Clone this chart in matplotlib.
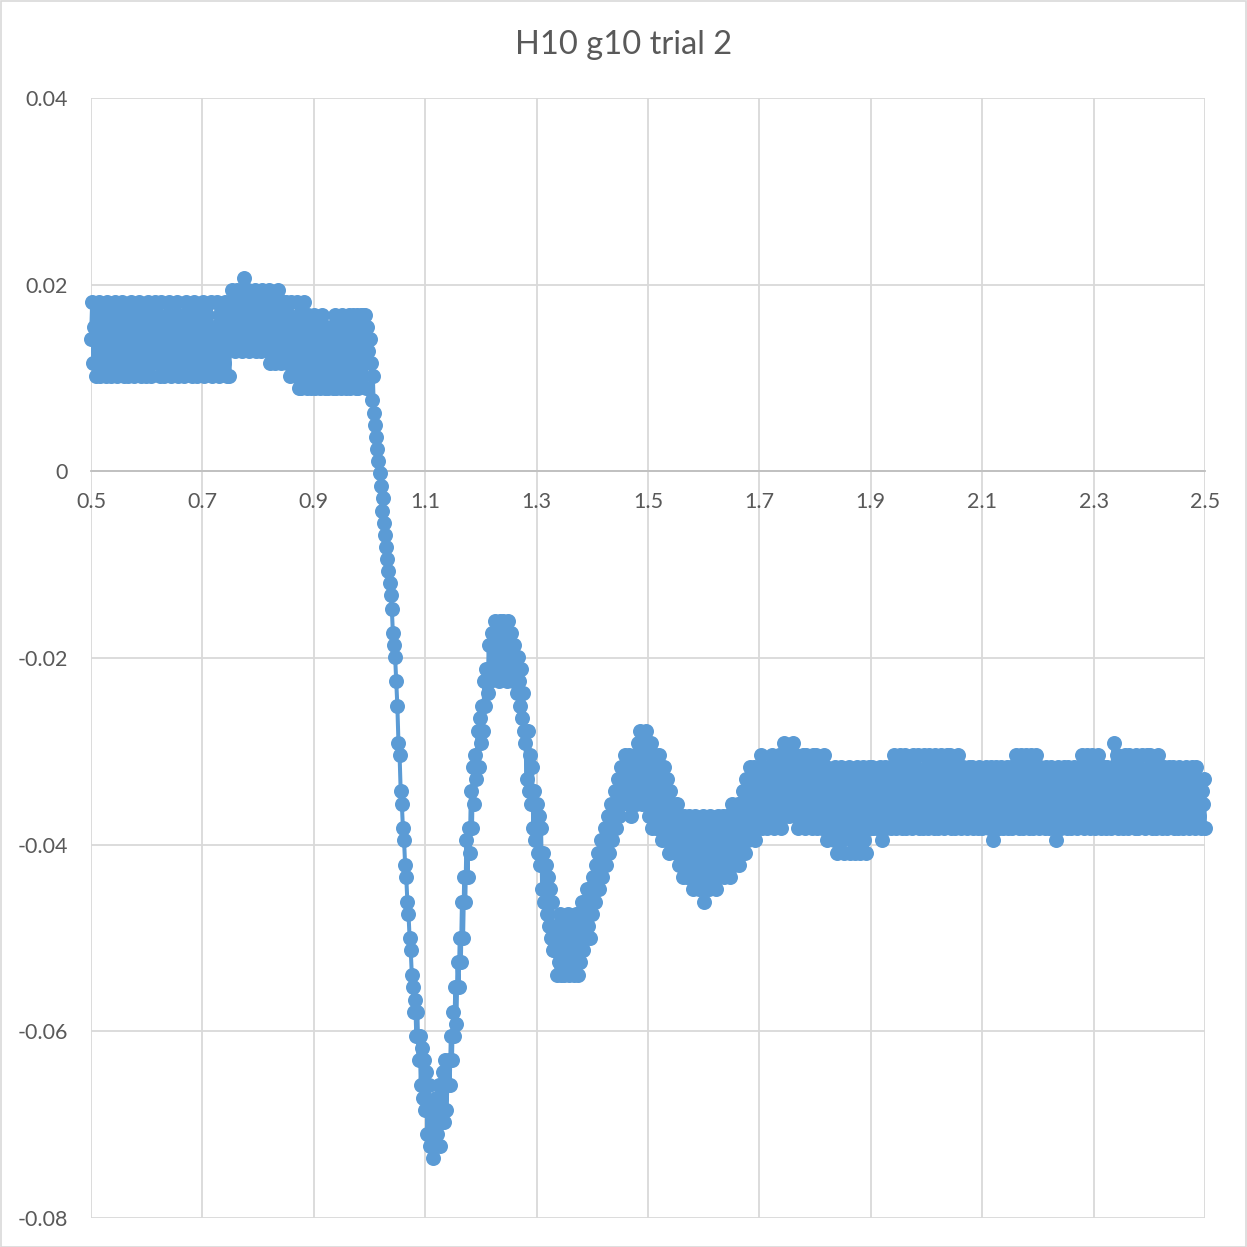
import numpy as np
import matplotlib
matplotlib.use('Agg')
import matplotlib.pyplot as plt
from matplotlib.patches import Rectangle

# --- readings on a 0.002 grid, split in three pieces ---
# 0.500 .. 0.978 (settled before the step)
y_before = [
    0.0142, 0.0181, 0.0116, 0.0155, 0.0102, 0.0168, 0.0129, 0.0181, 0.0102, 0.0142,
    0.0168, 0.0116, 0.0155, 0.0102, 0.0181, 0.0129, 0.0142, 0.0102, 0.0168, 0.0116,
    0.0155, 0.0181, 0.0102, 0.0129, 0.0168, 0.0142, 0.0116, 0.0181, 0.0102, 0.0155,
    0.0129, 0.0168, 0.0102, 0.0142, 0.0181, 0.0116, 0.0155, 0.0102, 0.0129, 0.0168,
    0.0142, 0.0181, 0.0116, 0.0102, 0.0155, 0.0129, 0.0168, 0.0102, 0.0142, 0.0181,
    0.0116, 0.0155, 0.0102, 0.0168, 0.0129, 0.0181, 0.0142, 0.0116, 0.0168, 0.0102,
    0.0181, 0.0129, 0.0155, 0.0102, 0.0142, 0.0168, 0.0116, 0.0181, 0.0129, 0.0102,
    0.0155, 0.0116, 0.0168, 0.0142, 0.0181, 0.0102, 0.0129, 0.0155, 0.0116, 0.0168,
    0.0102, 0.0142, 0.0181, 0.0129, 0.0155, 0.0116, 0.0168, 0.0102, 0.0142, 0.0181,
    0.0129, 0.0102, 0.0155, 0.0168, 0.0116, 0.0142, 0.0181, 0.0102, 0.0155, 0.0129,
    0.0168, 0.0116, 0.0142, 0.0181, 0.0102, 0.0129, 0.0155, 0.0116, 0.0181, 0.0142,
    0.0102, 0.0168, 0.0129, 0.0155, 0.0116, 0.0181, 0.0142, 0.0102, 0.0168, 0.0102,
    0.0168, 0.0194, 0.0142, 0.0181, 0.0129, 0.0155, 0.0194, 0.0168, 0.0142, 0.0181,
    0.0129, 0.0155, 0.0207, 0.0181, 0.0142, 0.0194, 0.0129, 0.0168, 0.0155, 0.0181,
    0.0142, 0.0194, 0.0129, 0.0168, 0.0155, 0.0181, 0.0129, 0.0194, 0.0142, 0.0168,
    0.0155, 0.0181, 0.0129, 0.0194, 0.0116, 0.0168, 0.0142, 0.0181, 0.0116, 0.0155,
    0.0129, 0.0194, 0.0168, 0.0116, 0.0142, 0.0181, 0.0129, 0.0155, 0.0181, 0.0116,
    0.0168, 0.0102, 0.0181, 0.0142, 0.0116, 0.0155, 0.0102, 0.0181, 0.0129, 0.0089,
    0.0168, 0.0089, 0.0142, 0.0181, 0.0102, 0.0155, 0.0089, 0.0168, 0.0129, 0.0089,
    0.0155, 0.0116, 0.0168, 0.0089, 0.0142, 0.0102, 0.0155, 0.0089, 0.0129, 0.0168,
    0.0142, 0.0089, 0.0155, 0.0116, 0.0089, 0.0129, 0.0155, 0.0102, 0.0089, 0.0142,
    0.0168, 0.0089, 0.0129, 0.0155, 0.0102, 0.0089, 0.0168, 0.0116, 0.0142, 0.0089,
    0.0155, 0.0102, 0.0168, 0.0089, 0.0129, 0.0168, 0.0102, 0.0142, 0.0089, 0.0168,
]

# 0.980 .. 1.698 (drop and ringing)
y_step = [
    0.0089, 0.0142, 0.0168, 0.0102, 0.0168, 0.0129, 0.0168, 0.0089, 0.0155, 0.0129,
    0.0142, 0.0116, 0.0076, 0.0102, 0.0063, 0.0050, 0.0037, 0.0024, 0.0011, -0.0002,
    -0.0016, -0.0042, -0.0029, -0.0055, -0.0068, -0.0081, -0.0094, -0.0107, -0.0120, -0.0133,
    -0.0147, -0.0173, -0.0186, -0.0199, -0.0225, -0.0251, -0.0291, -0.0304, -0.0343, -0.0356,
    -0.0382, -0.0395, -0.0422, -0.0435, -0.0461, -0.0474, -0.0500, -0.0513, -0.0540, -0.0553,
    -0.0579, -0.0566, -0.0605, -0.0579, -0.0631, -0.0605, -0.0657, -0.0618, -0.0671, -0.0631,
    -0.0684, -0.0644, -0.0710, -0.0657, -0.0723, -0.0684, -0.0710, -0.0736, -0.0684, -0.0723,
    -0.0671, -0.0710, -0.0657, -0.0723, -0.0671, -0.0697, -0.0644, -0.0697, -0.0631, -0.0684,
    -0.0657, -0.0631, -0.0657, -0.0605, -0.0631, -0.0579, -0.0605, -0.0553, -0.0592, -0.0526,
    -0.0553, -0.0500, -0.0526, -0.0461, -0.0500, -0.0435, -0.0461, -0.0395, -0.0435, -0.0382,
    -0.0409, -0.0343, -0.0382, -0.0317, -0.0356, -0.0304, -0.0330, -0.0278, -0.0317, -0.0264,
    -0.0291, -0.0251, -0.0278, -0.0225, -0.0251, -0.0212, -0.0238, -0.0186, -0.0225, -0.0186,
    -0.0173, -0.0212, -0.0186, -0.0160, -0.0199, -0.0173, -0.0225, -0.0160, -0.0186, -0.0212,
    -0.0160, -0.0199, -0.0173, -0.0225, -0.0160, -0.0186, -0.0212, -0.0173, -0.0199, -0.0225,
    -0.0186, -0.0212, -0.0238, -0.0199, -0.0225, -0.0251, -0.0212, -0.0264, -0.0238, -0.0278,
    -0.0291, -0.0330, -0.0278, -0.0343, -0.0304, -0.0356, -0.0317, -0.0382, -0.0343, -0.0395,
    -0.0356, -0.0409, -0.0369, -0.0422, -0.0382, -0.0448, -0.0409, -0.0461, -0.0422, -0.0474,
    -0.0435, -0.0487, -0.0448, -0.0500, -0.0461, -0.0513, -0.0513, -0.0487, -0.0540, -0.0500,
    -0.0526, -0.0474, -0.0540, -0.0513, -0.0487, -0.0540, -0.0500, -0.0526, -0.0474, -0.0540,
    -0.0513, -0.0487, -0.0526, -0.0500, -0.0540, -0.0474, -0.0513, -0.0540, -0.0487, -0.0526,
    -0.0500, -0.0461, -0.0513, -0.0474, -0.0500, -0.0448, -0.0487, -0.0461, -0.0500, -0.0448,
    -0.0474, -0.0435, -0.0461, -0.0422, -0.0448, -0.0409, -0.0448, -0.0422, -0.0395, -0.0435,
    -0.0409, -0.0382, -0.0422, -0.0395, -0.0369, -0.0409, -0.0382, -0.0356, -0.0395, -0.0369,
    -0.0343, -0.0382, -0.0356, -0.0330, -0.0369, -0.0343, -0.0317, -0.0356, -0.0330, -0.0304,
    -0.0343, -0.0317, -0.0356, -0.0304, -0.0330, -0.0369, -0.0317, -0.0343, -0.0304, -0.0356,
    -0.0330, -0.0291, -0.0343, -0.0278, -0.0317, -0.0356, -0.0291, -0.0330, -0.0278, -0.0343,
    -0.0304, -0.0369, -0.0317, -0.0291, -0.0382, -0.0330, -0.0304, -0.0382, -0.0317, -0.0356,
    -0.0304, -0.0382, -0.0330, -0.0395, -0.0317, -0.0356, -0.0395, -0.0330, -0.0369, -0.0409,
    -0.0343, -0.0382, -0.0356, -0.0395, -0.0369, -0.0409, -0.0356, -0.0382, -0.0422, -0.0369,
    -0.0395, -0.0435, -0.0369, -0.0409, -0.0382, -0.0435, -0.0395, -0.0369, -0.0422, -0.0382,
    -0.0448, -0.0395, -0.0369, -0.0435, -0.0409, -0.0382, -0.0448, -0.0395, -0.0422, -0.0369,
    -0.0461, -0.0409, -0.0382, -0.0435, -0.0395, -0.0448, -0.0369, -0.0422, -0.0395, -0.0435,
    -0.0382, -0.0448, -0.0409, -0.0369, -0.0435, -0.0395, -0.0422, -0.0369, -0.0435, -0.0395,
    -0.0422, -0.0369, -0.0409, -0.0382, -0.0435, -0.0356, -0.0395, -0.0422, -0.0369, -0.0409,
    -0.0382, -0.0356, -0.0422, -0.0369, -0.0395, -0.0343, -0.0382, -0.0409, -0.0330, -0.0369,
    -0.0395, -0.0343, -0.0317, -0.0382, -0.0356, -0.0317, -0.0395, -0.0343, -0.0369, -0.0330,
]

# 1.700 .. 2.500 (settled after the step)
y_after = [
    -0.0343, -0.0304, -0.0382, -0.0317, -0.0369, -0.0330, -0.0356, -0.0382, -0.0317, -0.0343,
    -0.0369, -0.0304, -0.0343, -0.0382, -0.0317, -0.0356, -0.0330, -0.0369, -0.0304, -0.0382,
    -0.0356, -0.0317, -0.0291, -0.0369, -0.0330, -0.0343, -0.0304, -0.0369, -0.0317, -0.0356,
    -0.0291, -0.0330, -0.0369, -0.0304, -0.0343, -0.0382, -0.0317, -0.0356, -0.0369, -0.0304,
    -0.0343, -0.0382, -0.0304, -0.0356, -0.0330, -0.0369, -0.0317, -0.0382, -0.0304, -0.0343,
    -0.0369, -0.0304, -0.0382, -0.0330, -0.0356, -0.0317, -0.0382, -0.0343, -0.0304, -0.0369,
    -0.0317, -0.0395, -0.0343, -0.0369, -0.0330, -0.0382, -0.0356, -0.0395, -0.0317, -0.0356,
    -0.0409, -0.0330, -0.0369, -0.0317, -0.0395, -0.0343, -0.0409, -0.0356, -0.0330, -0.0382,
    -0.0317, -0.0409, -0.0356, -0.0330, -0.0395, -0.0369, -0.0409, -0.0343, -0.0317, -0.0382,
    -0.0409, -0.0330, -0.0369, -0.0317, -0.0395, -0.0356, -0.0409, -0.0343, -0.0317, -0.0382,
    -0.0356, -0.0317, -0.0382, -0.0343, -0.0369, -0.0330, -0.0382, -0.0356, -0.0317, -0.0369,
    -0.0395, -0.0330, -0.0356, -0.0317, -0.0382, -0.0343, -0.0369, -0.0317, -0.0382, -0.0356,
    -0.0317, -0.0304, -0.0369, -0.0382, -0.0330, -0.0356, -0.0304, -0.0343, -0.0382, -0.0317,
    -0.0343, -0.0304, -0.0382, -0.0330, -0.0369, -0.0317, -0.0356, -0.0382, -0.0304, -0.0343,
    -0.0369, -0.0317, -0.0304, -0.0382, -0.0343, -0.0356, -0.0330, -0.0382, -0.0304, -0.0369,
    -0.0330, -0.0382, -0.0304, -0.0356, -0.0317, -0.0369, -0.0343, -0.0382, -0.0304, -0.0356,
    -0.0382, -0.0317, -0.0343, -0.0304, -0.0369, -0.0330, -0.0382, -0.0356, -0.0304, -0.0343,
    -0.0369, -0.0304, -0.0382, -0.0330, -0.0356, -0.0317, -0.0382, -0.0343, -0.0304, -0.0369,
    -0.0330, -0.0382, -0.0356, -0.0317, -0.0369, -0.0343, -0.0382, -0.0330, -0.0317, -0.0369,
    -0.0356, -0.0317, -0.0382, -0.0343, -0.0369, -0.0330, -0.0382, -0.0317, -0.0356, -0.0343,
    -0.0382, -0.0330, -0.0356, -0.0317, -0.0369, -0.0343, -0.0382, -0.0330, -0.0317, -0.0369,
    -0.0395, -0.0343, -0.0317, -0.0369, -0.0330, -0.0382, -0.0356, -0.0317, -0.0343, -0.0382,
    -0.0330, -0.0356, -0.0317, -0.0382, -0.0343, -0.0369, -0.0317, -0.0382, -0.0356, -0.0330,
    -0.0304, -0.0369, -0.0343, -0.0382, -0.0317, -0.0304, -0.0356, -0.0382, -0.0330, -0.0304,
    -0.0369, -0.0317, -0.0382, -0.0343, -0.0304, -0.0356, -0.0382, -0.0330, -0.0304, -0.0369,
    -0.0343, -0.0382, -0.0317, -0.0356, -0.0330, -0.0369, -0.0382, -0.0317, -0.0343, -0.0356,
    -0.0382, -0.0330, -0.0317, -0.0369, -0.0343, -0.0382, -0.0395, -0.0356, -0.0317, -0.0369,
    -0.0330, -0.0382, -0.0356, -0.0317, -0.0369, -0.0343, -0.0382, -0.0317, -0.0356, -0.0330,
    -0.0382, -0.0343, -0.0317, -0.0369, -0.0330, -0.0382, -0.0356, -0.0317, -0.0343, -0.0369,
    -0.0304, -0.0382, -0.0330, -0.0356, -0.0304, -0.0369, -0.0343, -0.0382, -0.0317, -0.0304,
    -0.0356, -0.0382, -0.0317, -0.0343, -0.0304, -0.0369, -0.0330, -0.0382, -0.0356, -0.0317,
    -0.0343, -0.0382, -0.0317, -0.0356, -0.0330, -0.0369, -0.0382, -0.0317, -0.0291, -0.0343,
    -0.0369, -0.0304, -0.0382, -0.0330, -0.0356, -0.0317, -0.0382, -0.0343, -0.0304, -0.0369,
    -0.0330, -0.0382, -0.0304, -0.0356, -0.0317, -0.0369, -0.0343, -0.0382, -0.0304, -0.0356,
    -0.0382, -0.0317, -0.0343, -0.0304, -0.0369, -0.0330, -0.0382, -0.0356, -0.0304, -0.0343,
    -0.0369, -0.0304, -0.0382, -0.0330, -0.0356, -0.0317, -0.0382, -0.0343, -0.0304, -0.0369,
    -0.0330, -0.0382, -0.0356, -0.0317, -0.0369, -0.0343, -0.0382, -0.0330, -0.0317, -0.0369,
    -0.0356, -0.0317, -0.0382, -0.0343, -0.0369, -0.0330, -0.0382, -0.0317, -0.0356, -0.0343,
    -0.0382, -0.0330, -0.0356, -0.0317, -0.0369, -0.0343, -0.0382, -0.0330, -0.0317, -0.0369,
    -0.0343, -0.0382, -0.0317, -0.0356, -0.0330, -0.0369, -0.0382, -0.0343, -0.0356, -0.0330,
    -0.0382,
]

x_before = np.linspace(0.500, 0.978, len(y_before))
x_step = np.linspace(0.980, 1.698, len(y_step))
x_after = np.linspace(1.700, 2.500, len(y_after))

x = np.concatenate([x_before, x_step, x_after])
y = np.concatenate([y_before, y_step, y_after])

x_ticks = [0.5, 0.7, 0.9, 1.1, 1.3, 1.5, 1.7, 1.9, 2.1, 2.3, 2.5]
x_labels = ['0.5', '0.7', '0.9', '1.1', '1.3', '1.5', '1.7', '1.9', '2.1', '2.3', '2.5']
y_ticks = [0.04, 0.02, 0.0, -0.02, -0.04, -0.06, -0.08]
y_labels = ['0.04', '0.02', '0', '-0.02', '-0.04', '-0.06', '-0.08']

TITLE = 'H10 g10 trial 2'
BLUE = '#5B9BD5'
TEXT = '#595959'
GRID = '#D9D9D9'

plt.rcParams['font.family'] = ['Lato', 'DejaVu Sans']

W, H = 1247, 1247
fig = plt.figure(figsize=(W / 100, H / 100), dpi=100)
fig.patch.set_facecolor('white')

# plot area in pixels: left 91, right 1205, top 98, bottom 1218
ax = fig.add_axes([91 / W, 1 - 1218 / H, (1205 - 91) / W, (1218 - 98) / H])

ax.plot(x, y, '-o', color=BLUE, lw=2.9, ms=10.8, mew=0, clip_on=False, zorder=3)

ax.set_xlim(0.5, 2.5)
ax.set_ylim(-0.08, 0.04)
ax.set_xticks(x_ticks)
ax.set_xticklabels(x_labels)
ax.set_yticks(y_ticks)
ax.set_yticklabels(y_labels)

ax.grid(True, color=GRID, lw=1.3)
ax.set_axisbelow(True)
for side in ['top', 'right', 'left']:
    ax.spines[side].set_visible(False)
ax.spines['bottom'].set_position(('data', 0))
ax.spines['bottom'].set_color('#BFBFBF')
ax.spines['bottom'].set_linewidth(1.3)

ax.tick_params(axis='both', length=0, labelsize=15.5, labelcolor=TEXT)
ax.tick_params(axis='x', pad=15)
ax.tick_params(axis='y', pad=16.5)

fig.text(0.5, 1 - 45 / H, TITLE, ha='center', va='center', fontsize=23.5, color=TEXT)

# light frame round the whole chart
fig.patches.append(Rectangle((0.5 / W, 0.5 / H), 1 - 1.5 / W, 1 - 1.5 / H,
                             transform=fig.transFigure, fill=False,
                             edgecolor=GRID, lw=1.2))

fig.savefig('out.png', dpi=100)
